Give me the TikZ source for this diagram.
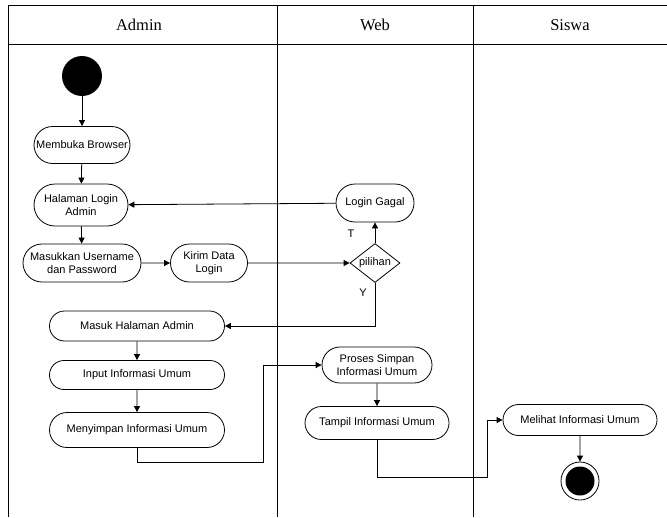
\documentclass[tikz,border=0pt]{standalone}
\usepackage{fontspec}
\setmainfont{Liberation Serif}
\newfontfamily\arialfont{Liberation Sans}
\usetikzlibrary{shapes.misc,shapes.geometric,arrows.meta}
\begin{document}
\begin{tikzpicture}[x=1pt,y=-1pt,
  lane/.style={line width=1pt},
  act/.style={draw, line width=0.8pt, rounded rectangle, inner sep=2pt,
    align=center, font=\arialfont\fontsize{11}{12.5}\selectfont},
  flow/.style={line width=0.8pt, -{Triangle[length=6pt,width=6pt]}},
  lbl/.style={font=\arialfont\fontsize{11}{12.5}\selectfont},
  head/.style={font=\fontsize{16.5}{19}\selectfont}]
\useasboundingbox (0,0) rectangle (667,517);

% swimlanes
\draw[lane] (667,5) -- (8,5) -- (8,517);
\draw[lane] (8,44) -- (667,44);
\draw[lane] (277,5) -- (277,517);
\draw[lane] (473,5) -- (473,517);
\node[head] (hadmin) at (139,25) {Admin};
\node[head] (hweb) at (375,25) {Web};
\node[head] (hsiswa) at (570,25) {Siswa};

% Admin lane
\node[circle, fill=black, minimum size=40pt, inner sep=0pt] (start) at (82,76) {};
\node[act, minimum width=100pt, minimum height=37pt] (browse) at (82,145) {Membuka Browser};
\node[act, minimum width=98pt, minimum height=42pt] (login) at (81,205) {Halaman Login\\Admin};
\node[act, minimum width=122pt, minimum height=38pt] (masukkan) at (82,263) {Masukkan Username\\dan Password};
\node[act, minimum width=81pt, minimum height=38pt] (kirim) at (209,263) {Kirim Data\\Login};
\node[act, minimum width=179pt, minimum height=30pt] (masuk) at (137,326) {Masuk Halaman Admin};
\node[act, minimum width=179pt, minimum height=29pt] (input) at (137,375) {Input Informasi Umum};
\node[act, minimum width=179pt, minimum height=35pt] (simpan) at (137,430) {Menyimpan Informasi Umum};

% Web lane
\node[act, minimum width=82pt, minimum height=38pt] (gagal) at (375,203) {Login Gagal};
\node[draw, line width=0.8pt, diamond, aspect=1.3, inner sep=0pt,
  minimum width=50pt, minimum height=39pt,
  font=\arialfont\fontsize{11}{12.5}\selectfont] (pilihan) at (375,263) {pilihan};
\node[act, minimum width=114pt, minimum height=36pt] (proses) at (377,365) {Proses Simpan\\Informasi Umum};
\node[act, minimum width=148pt, minimum height=33pt] (tampil) at (377,423) {Tampil Informasi Umum};

% Siswa lane
\node[act, minimum width=158pt, minimum height=31pt] (melihat) at (580,420) {Melihat Informasi Umum};
\node[circle, draw, line width=0.8pt, minimum size=38pt, inner sep=0pt] (end) at (580,481) {};
\node[circle, fill=black, minimum size=29pt, inner sep=0pt] (endin) at (end) {};

\coordinate (bend1) at (263,462);
\coordinate (bend2) at (487,477);

% flows
\draw[flow] (start) -- (browse);
\draw[flow] (browse) -- (login);
\draw[flow] (login) -- (masukkan);
\draw[flow] (masukkan) -- (kirim);
\draw[flow] (kirim) -- (pilihan);
\draw[flow] (pilihan.north) -- (gagal.south);
\draw[flow] (gagal) -- (login);
\draw[flow] (pilihan.south) |- (masuk.east);
\draw[flow] (masuk) -- (input);
\draw[flow] (input) -- (simpan);
\draw[flow] (simpan.south) |- (bend1) |- (proses.west);
\draw[flow] (proses) -- (tampil);
\draw[flow] (tampil.south) |- (bend2) |- (melihat.west);
\draw[flow] (melihat) -- (end);

\node[lbl] (tlabel) at (351,234) {T};
\node[lbl] (ylabel) at (363,293) {Y};
\end{tikzpicture}
\end{document}
